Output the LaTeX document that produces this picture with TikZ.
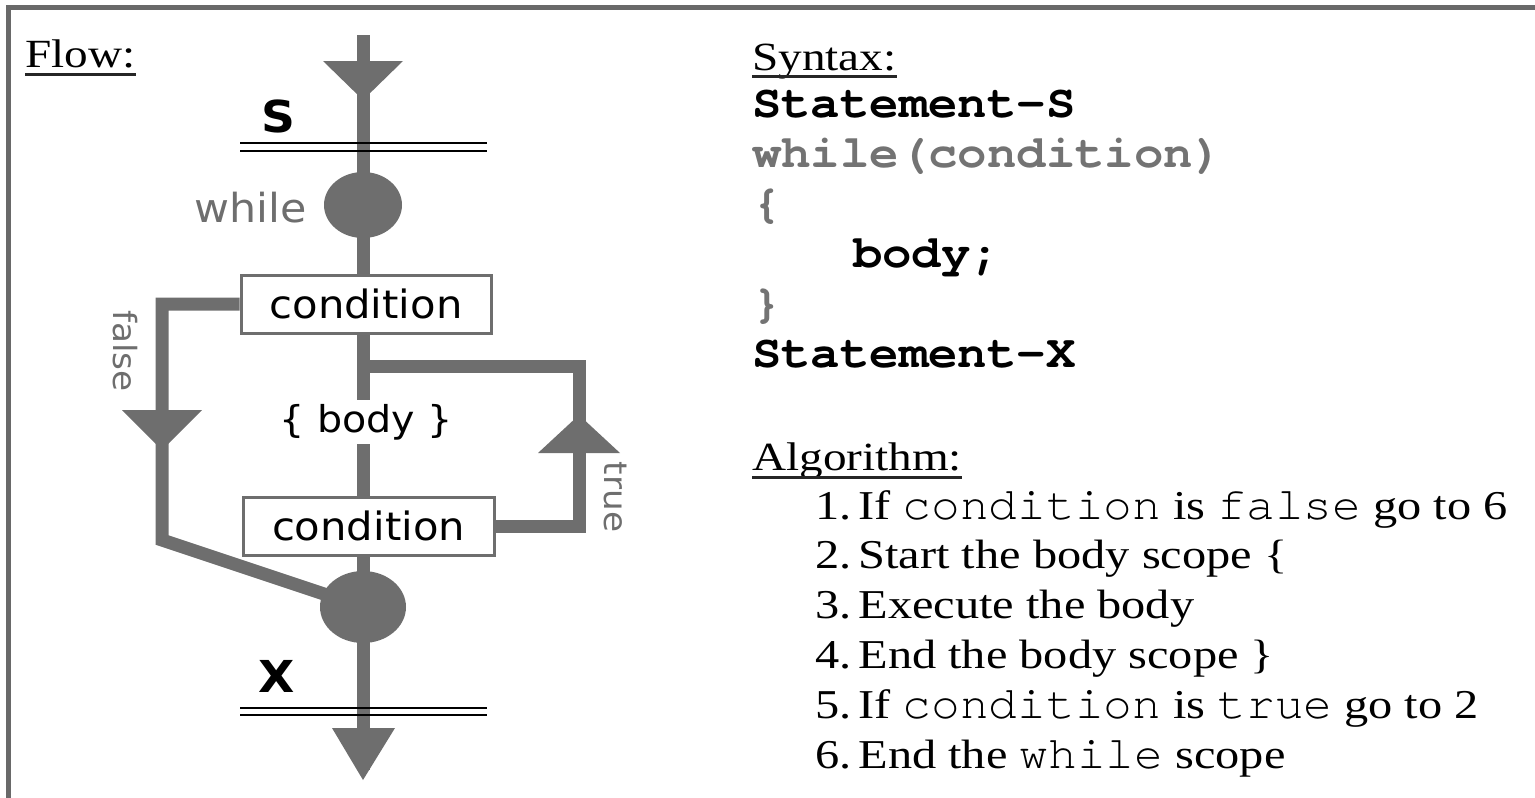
\documentclass[tikz,border=0pt]{standalone}
\usepackage{fontspec}
\setmainfont{Liberation Serif}[FakeStretch=1.18]
\newfontfamily\codefont{TeX Gyre Cursor}[FakeStretch=1.065]
\newfontfamily\algcode{TeX Gyre Cursor}[FakeStretch=1.04]
\newfontfamily\flowfont{DejaVu Sans}[FakeStretch=1.07]
\usetikzlibrary{shapes.geometric,backgrounds}
\definecolor{flowgray}{RGB}{110,110,110}
\definecolor{codegray}{RGB}{115,115,115}
\definecolor{framegray}{RGB}{105,105,105}
\newcommand{\num}[1]{#1.\hspace{7pt}}
\newcommand{\ac}[1]{{\algcode\fontsize{46}{48}\selectfont #1}}
\begin{document}
\begin{tikzpicture}[x=1pt,y=-1pt,
  flowline/.style={draw=flowgray, line width=13pt},
  condbox/.style={draw=flowgray, line width=3pt, fill=white, minimum width=250pt, minimum height=58pt, inner sep=0pt, font=\flowfont\fontsize{39}{46}\selectfont},
  joint/.style={ellipse, fill=flowgray, inner sep=0pt},
  flowtext/.style={inner sep=4pt, font=\flowfont\fontsize{37}{46}\selectfont},
  flowlabel/.style={inner sep=0pt, text=flowgray, font=\flowfont\fontsize{40}{46}\selectfont},
  sidelabel/.style={inner sep=0pt, rotate=-90, text=flowgray, font=\flowfont\fontsize{32}{40}\selectfont},
  stmtlabel/.style={inner sep=0pt, font=\flowfont\bfseries\fontsize{44}{50}\selectfont},
  dbl/.style={draw=black, line width=2.5pt},
  tiptri/.style={fill=flowgray},
  head/.style={inner sep=0pt, anchor=base west, font=\fontsize{40}{48}\selectfont},
  uline/.style={draw=black!85, line width=3pt},
  codeb/.style={inner sep=0pt, anchor=base west, font=\codefont\bfseries\fontsize{46}{50}\selectfont},
  codeg/.style={inner sep=0pt, anchor=base west, text=codegray, font=\codefont\bfseries\fontsize{46}{50}\selectfont},
  algo/.style={inner sep=0pt, anchor=base west, font=\fontsize{41}{48}\selectfont}
]
\useasboundingbox (0,0) rectangle (1535,798);
% frame
\draw[framegray, line width=5pt] (8,798) -- (8,7.5) -- (1535,7.5);

% flow nodes
\node[condbox] (c1) at (366,304) {condition};
\node[condbox, minimum width=251pt] (c2) at (368.5,526) {condition};
\node[joint, minimum width=78pt, minimum height=66pt] (w) at (363,205) {};
\node[joint, minimum width=86pt, minimum height=72pt] (m) at (363,607) {};
\node[flowtext] (body) at (366,422) {\{ body \}};
\coordinate (start) at (363,35);
\coordinate (end) at (363,770);
\coordinate (fa) at (162,304);
\coordinate (fb) at (162,540);
\coordinate (ta) at (579,526);
\coordinate (tb) at (579,366);
\coordinate (tc) at (363,366);

\begin{pgfonlayer}{background}
\draw[flowline] (start) -- (c1.north -| start);
\draw[flowline] (c1.south -| start) -- (body.north -| start);
\draw[flowline] (body.south -| start) -- (c2.north -| start);
\draw[flowline] (c2.south -| start) -- (end);
\draw[flowline] (c1.west) -- (fa) -- (fb) -- (m.center);
\draw[flowline] (c2.east) -- (ta) -- (tb) -- (tc);
\end{pgfonlayer}

% arrow heads
\fill[tiptri] (323,61) -- (403,61) -- (363,100) -- cycle;
\fill[tiptri] (122,410) -- (202,410) -- (162,450) -- cycle;
\fill[tiptri] (538,453) -- (620,453) -- (579,415) -- cycle;
\fill[tiptri] (332,728) -- (395,728) -- (363,780) -- cycle;

% double bars
\draw[dbl] (240,143) -- (487,143);
\draw[dbl] (240,151) -- (487,151);
\draw[dbl] (240,708) -- (487,708);
\draw[dbl] (240,715) -- (487,715);

% labels
\node[stmtlabel] (S) at (278,116) {S};
\node[stmtlabel] (X) at (277,676) {X};
\node[flowlabel, anchor=base east] (wl) at (307,222) {while};
\node[sidelabel] (fl) at (125,351) {false};
\node[sidelabel] (tl) at (616,497) {true};

% headers
\node[head] (flow) at (25,67) {Flow:};
\draw[uline] ([yshift=-7pt]flow.base west) -- ([yshift=-7pt]flow.base east);
\node[head] (syn) at (752,70) {Syntax:};
\draw[uline] ([yshift=-6pt]syn.base west) -- ([yshift=-6pt]syn.base east);
\node[head] (alg) at (752,470) {Algorithm:};
\draw[uline] ([yshift=-7pt]alg.base west) -- ([yshift=-7pt]alg.base east);

% syntax
\node[codeb] (s1) at (752,117) {Statement-S};
\node[codeg] (s2) at (752,167) {while(condition)};
\node[codeg] (s3) at (752,217) {\{};
\node[codeb] (s4) at (853,267) {body;};
\node[codeg] (s5) at (752,317) {\}};
\node[codeb] (s6) at (752,367) {Statement-X};

% algorithm
\node[algo] (a1) at (815,519) {\num{1}If \ac{condition} is \ac{false} go to 6};
\node[algo] (a2) at (815,568) {\num{2}Start the body scope \{};
\node[algo] (a3) at (815,618) {\num{3}Execute the body};
\node[algo] (a4) at (815,668) {\num{4}End the body scope \}};
\node[algo] (a5) at (815,718) {\num{5}If \ac{condition} is \ac{true} go to 2};
\node[algo] (a6) at (815,768) {\num{6}End the \ac{while} scope};
\end{tikzpicture}
\end{document}
